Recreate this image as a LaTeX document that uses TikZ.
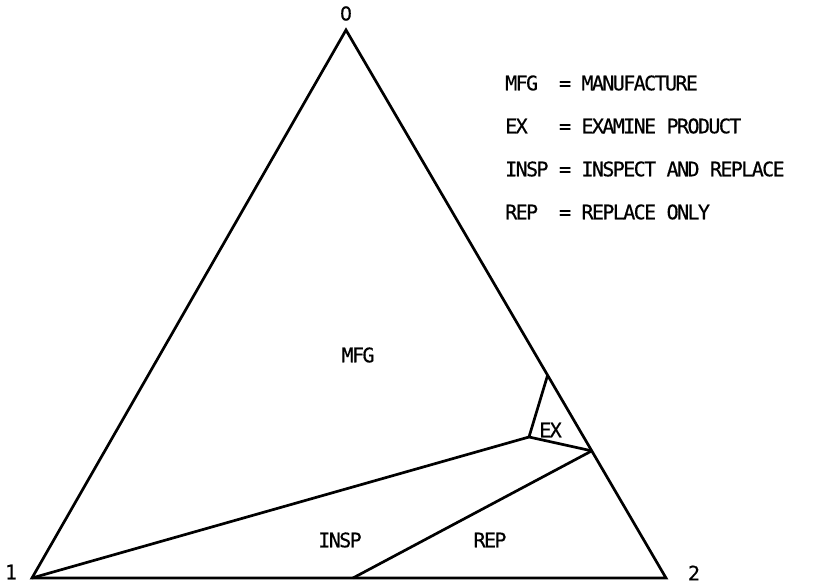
\documentclass[tikz,border=0pt]{standalone}
\usepackage{fontspec}
\newfontfamily\plotfont[LetterSpace=-8,FakeBold=0.6]{DejaVu Sans Mono}
\newfontfamily\zerofont[FakeBold=0.6]{DejaVu Sans}
\usetikzlibrary{calc}
\tikzset{
  edge/.style={line width=2.7pt, line join=miter, line cap=butt},
  lbl/.style={font=\plotfont\fontsize{20}{24}\selectfont, inner sep=0pt},
  leg/.style={lbl, anchor=west}
}
\begin{document}
\begin{tikzpicture}[x=1pt,y=-1pt]
\useasboundingbox (0,0) rectangle (815,586);
\coordinate (A) at (346,30);
\coordinate (B) at (32,578);
\coordinate (C) at (666,578);
\coordinate (P) at ($(A)!0.63!(C)$);
\coordinate (Q) at ($(A)!0.768!(C)$);
\coordinate (I) at (529,437);
\coordinate (D) at (353,578);
\draw[edge] (A) -- (B) -- (C) -- cycle;
\draw[edge] (P) -- (I) -- (Q);
\draw[edge] (I) -- (B);
\draw[edge] (Q) -- (D);
\node[lbl, font=\zerofont\fontsize{19}{22}\selectfont] (n0) at (346,13.5) {0};
\node[lbl] (n1) at (11,572) {1};
\node[lbl] (n2) at (694,573) {2};
\node[lbl] (mfg) at (358,355) {MFG};
\node[lbl] (ex) at (550.5,430) {EX};
\node[lbl] (insp) at (340,540) {INSP};
\node[lbl] (rep) at (490,540) {REP};
\node[leg] (l1) at (505,83) {MFG~~=~MANUFACTURE};
\node[leg] (l2) at (505,126) {EX~~~=~EXAMINE~PRODUCT};
\node[leg] (l3) at (505,169) {INSP~=~INSPECT~AND~REPLACE};
\node[leg] (l4) at (505,212) {REP~~=~REPLACE~ONLY};
\end{tikzpicture}
\end{document}
